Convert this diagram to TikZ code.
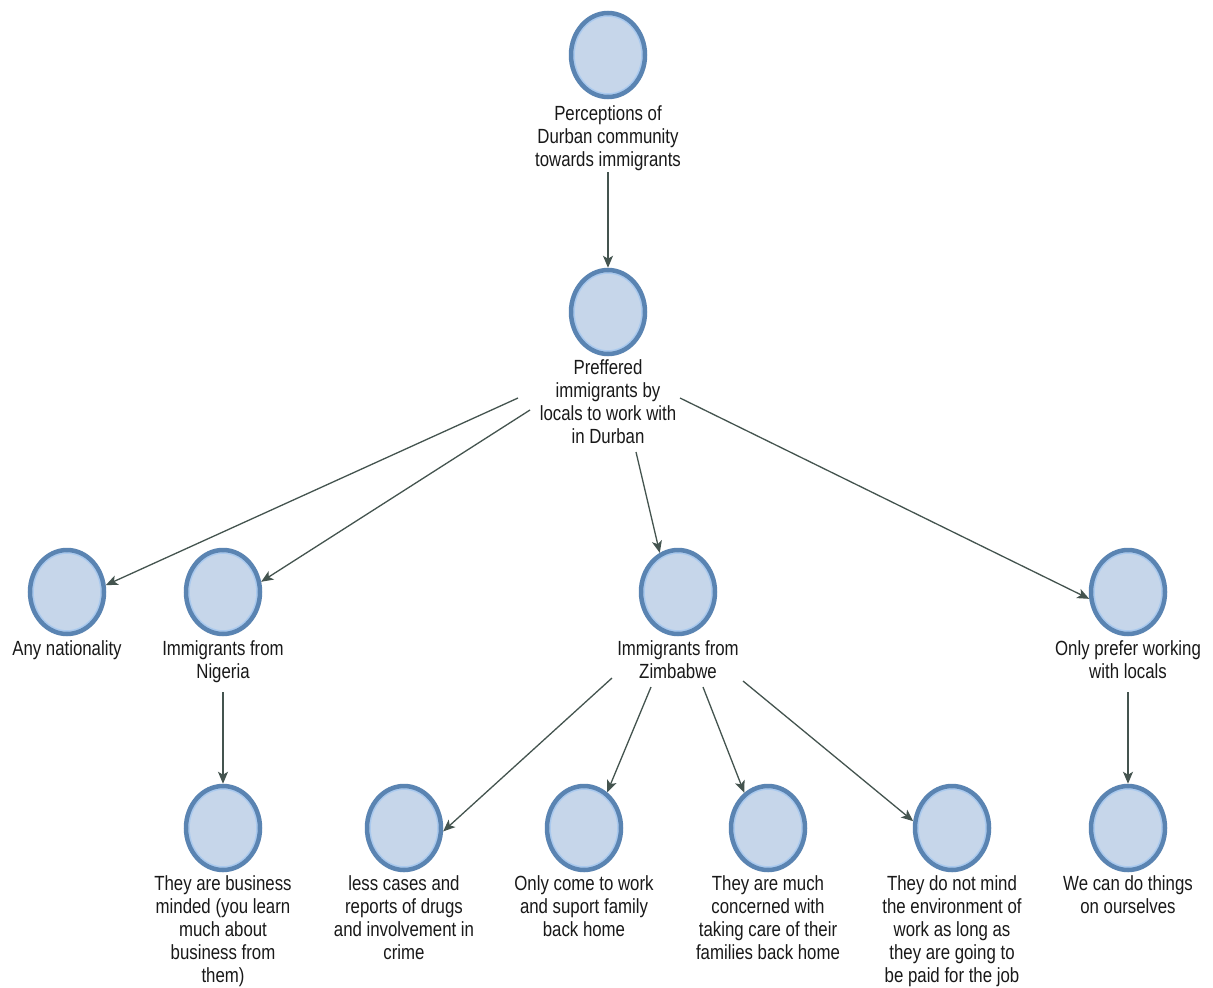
\documentclass[tikz,border=0pt]{standalone}
\usepackage{fontspec}
\setmainfont{Liberation Sans}[FakeStretch=0.82]
\usetikzlibrary{arrows.meta,shapes.geometric}
\definecolor{circfill}{HTML}{C6D6EA}
\definecolor{circdraw}{HTML}{5A84B2}
\definecolor{circring}{HTML}{A9C9EE}
\definecolor{arrcol}{HTML}{44544F}
\tikzset{
  bubble/.style={ellipse, minimum width=74pt, minimum height=84pt, inner sep=0pt,
    fill=circfill, draw=circdraw, line width=4.5pt,
    path picture={\draw[circring, line width=1.6pt] (path picture bounding box.center) ellipse (34pt and 39pt);}},
  lbl/.style={anchor=north, inner sep=0pt, align=center,
    font=\fontsize{20.5}{23}\selectfont, text=black!90},
  arr/.style={draw=arrcol, line width=1.3pt, -{Stealth[length=12pt,width=10pt,inset=3pt]}}
}
\begin{document}
\begin{tikzpicture}[x=1pt,y=-1pt]
\useasboundingbox[fill=white] (0,0) rectangle (1213,988);
% circles
\node[bubble] (top) at (608,55) {};
\node[bubble] (pref) at (608,312) {};
\node[bubble] (any) at (67,592) {};
\node[bubble] (nig) at (223,592) {};
\node[bubble] (zim) at (678,592) {};
\node[bubble] (op) at (1128,592) {};
\node[bubble] (bus) at (223,828) {};
\node[bubble] (less) at (404,828) {};
\node[bubble] (oc) at (584,828) {};
\node[bubble] (mc) at (768,828) {};
\node[bubble] (nm) at (952,828) {};
\node[bubble] (wc) at (1128,828) {};
% labels
\node[lbl] (ltop) at (608,105) {Perceptions of\\Durban community\\towards immigrants};
\node[lbl] (lpref) at (608,359) {Preffered\\immigrants by\\locals to work with\\in Durban};
\node[lbl] (lany) at (67,640) {Any nationality};
\node[lbl] (lnig) at (223,640) {Immigrants from\\Nigeria};
\node[lbl] (lzim) at (678,640) {Immigrants from\\Zimbabwe};
\node[lbl] (lop) at (1128,640) {Only prefer working\\with locals};
\node[lbl] (lbus) at (223,875) {They are business\\minded (you learn\\much about\\business from\\them)};
\node[lbl] (lless) at (404,875) {less cases and\\reports of drugs\\and involvement in\\crime};
\node[lbl] (loc) at (584,875) {Only come to work\\and suport family\\back home};
\node[lbl] (lmc) at (768,875) {They are much\\concerned with\\taking care of their\\families back home};
\node[lbl] (lnm) at (952,875) {They do not mind\\the environment of\\work as long as\\they are going to\\be paid for the job};
\node[lbl] (lwc) at (1128,875) {We can do things\\on ourselves};
% connector start points
\coordinate (s0) at (608,172);
\coordinate (s1) at (518,398);
\coordinate (s2) at (530,410);
\coordinate (s3) at (636,452);
\coordinate (s4) at (680,398);
\coordinate (s5) at (223,692);
\coordinate (s6) at (612,678);
\coordinate (s7) at (651,687);
\coordinate (s8) at (703,687);
\coordinate (s9) at (743,681);
\coordinate (s10) at (1128,692);
% connectors
\draw[arr] (s0) -- (pref.north);
\draw[arr] (s1) -- (any.10);
\draw[arr] (s2) -- (nig.15);
\draw[arr] (s3) -- (zim.115);
\draw[arr] (s4) -- (op.190);
\draw[arr] (s5) -- (bus.north);
\draw[arr] (s6) -- (less.355);
\draw[arr] (s7) -- (oc.57);
\draw[arr] (s8) -- (mc.124);
\draw[arr] (s9) -- (nm.170);
\draw[arr] (s10) -- (wc.north);
\end{tikzpicture}
\end{document}
